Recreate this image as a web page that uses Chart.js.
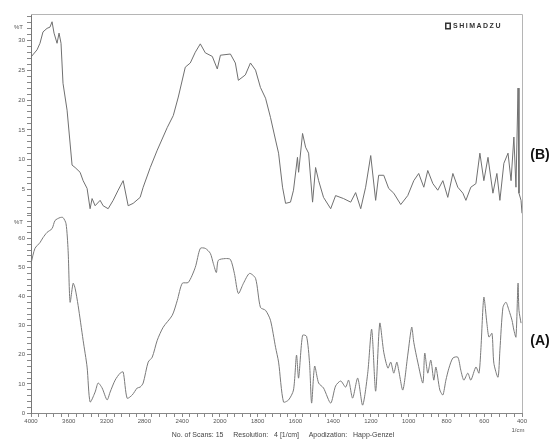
<!DOCTYPE html>
<html>
<head>
<meta charset="utf-8">
<script src="https://cdn.jsdelivr.net/npm/chart.js@4"></script>
<style>
  body { margin: 0; background: #fff; }
  #wrap { width: 552px; height: 441px; }
</style>
</head>
<body>
<div id="wrap"><canvas id="ftir" width="552" height="441"></canvas></div>
<script>
// x axis labels (1/cm), scale is expanded 2x below 2000
const xLabels = [4000, 3600, 3200, 2800, 2400, 2000, 1800, 1600, 1400, 1200, 1000, 800, 600, 400];

// Spectrum (B), top panel
const waveB = [4000, 3936, 3905, 3873, 3830, 3799, 3777, 3756, 3724, 3703, 3682, 3661, 3618, 3565, 3533,
  3480, 3448, 3406, 3374, 3353, 3321, 3268, 3236, 3183, 3130, 3077, 3024, 2971, 2918, 2844, 2812, 2737,
  2663, 2557, 2493, 2440, 2366, 2313, 2260, 2207, 2154, 2080, 2027, 1997, 1944, 1918, 1902, 1865, 1838,
  1811, 1785, 1758, 1732, 1705, 1689, 1668, 1652, 1626, 1610, 1589, 1583, 1562, 1546, 1530, 1509, 1493,
  1477, 1451, 1413, 1387, 1345, 1307, 1281, 1254, 1228, 1201, 1175, 1159, 1132, 1106, 1079, 1042, 1005,
  973, 947, 920, 899, 872, 846, 819, 793, 766, 740, 713, 697, 671, 644, 623, 602, 580, 554, 533, 517,
  496, 474, 458, 443, 432, 421, 416, 405, 400];
const transB = [27.2, 28.4, 29.5, 31.4, 32.0, 32.2, 33.1, 31.2, 29.5, 31.2, 29.5, 22.8, 18.3, 9.1, 8.7,
  7.9, 6.5, 5.2, 1.8, 3.5, 2.3, 3.2, 2.3, 1.8, 3.2, 4.9, 6.5, 2.3, 2.7, 3.7, 5.4, 8.7,
  11.6, 15.4, 17.4, 20.5, 25.5, 26.2, 28.0, 29.4, 27.9, 27.3, 25.2, 27.5, 27.7, 26.2, 23.3, 24.2, 26.2,
  25.0, 22.1, 20.3, 17.1, 13.3, 11.1, 5.4, 2.7, 2.9, 4.9, 10.4, 7.9, 14.4, 12.1, 11.1, 2.9, 8.7,
  6.5, 3.7, 1.8, 4.0, 3.5, 2.9, 4.5, 1.8, 5.4, 10.7, 3.2, 7.4, 7.4, 5.2, 4.4, 2.5, 4.0,
  6.5, 7.7, 5.4, 8.2, 6.0, 4.9, 6.5, 3.7, 7.7, 5.4, 4.4, 3.2, 5.4, 6.0, 11.1, 6.5, 10.4, 4.4, 7.7, 3.2,
  9.4, 11.1, 6.5, 13.8, 5.4, 22.0, 4.4, 3.2, 1.0];

// Spectrum (A), bottom panel
const waveA = [4000, 3958, 3905, 3873, 3830, 3777, 3745, 3692, 3661, 3629, 3607, 3586, 3554, 3533, 3501,
  3448, 3406, 3374, 3321, 3289, 3247, 3194, 3162, 3109, 3056, 3024, 2982, 2928, 2875, 2844, 2812, 2759,
  2716, 2663, 2600, 2504, 2451, 2398, 2334, 2260, 2207, 2154, 2101, 2069, 2037, 2016, 1971, 1944, 1923,
  1902, 1875, 1843, 1811, 1785, 1758, 1732, 1705, 1689, 1663, 1636, 1610, 1594, 1583, 1562, 1541, 1525,
  1514, 1498, 1477, 1451, 1413, 1387, 1360, 1334, 1318, 1297, 1270, 1244, 1217, 1196, 1175, 1153, 1132,
  1110, 1095, 1079, 1063, 1053, 1031, 1005, 984, 973, 952, 925, 915, 899, 883, 867, 856, 835, 819, 803,
  787, 766, 740, 724, 708, 687, 671, 644, 628, 618, 602, 586, 575, 559, 549, 527, 517, 501, 485, 469,
  453, 443, 432, 421, 416, 405];
const transA = [51.4, 56.6, 58.6, 60.3, 62.1, 63.4, 66.2, 67.2, 67.2, 65.1, 55.9, 38.1, 44.6, 42.9, 37.0,
  25.0, 15.8, 3.8, 7.2, 10.3, 8.6, 4.5, 7.2, 11.3, 13.7, 14.1, 5.1, 6.2, 8.6, 8.9, 10.3, 17.5,
  19.2, 25.0, 29.5, 33.6, 38.7, 44.6, 44.9, 50.1, 56.6, 56.6, 54.9, 51.4, 48.3, 52.5, 53.1, 52.8, 48.0,
  41.1, 44.6, 48.0, 46.3, 36.3, 35.3, 31.9, 22.6, 17.5, 3.8, 4.5, 7.9, 19.9, 12.0, 26.7, 26.4, 17.1,
  3.4, 16.1, 10.3, 8.6, 3.4, 9.3, 11.0, 8.9, 11.3, 5.1, 12.0, 2.7, 13.7, 28.8, 7.5, 30.9, 20.9,
  15.4, 17.5, 13.7, 17.5, 14.7, 7.9, 19.9, 29.5, 24.3, 17.5, 10.3, 20.6, 13.7, 18.2, 11.3, 15.8, 7.9, 6.2, 11.3,
  15.4, 18.9, 19.2, 14.7, 11.3, 13.7, 11.3, 15.8, 13.7, 21.6, 39.8, 30.9, 26.1, 27.4, 17.1, 12.3, 21.6, 36.3, 38.1, 35.3,
  31.9, 28.5, 26.1, 44.6, 35.3, 30.9];

// Wavenumber axis: 400 per division above 2000, 200 per division below
class WaveScale extends Chart.LinearScale {
  static id = 'wave';
  static defaults = {};
  determineDataLimits() {
    this.min = 400;
    this.max = 4000;
  }
  buildTicks() {
    const ticks = [];
    for (let i = 0; i < xLabels.length - 1; i++) {
      const a = xLabels[i], b = xLabels[i + 1];
      for (let k = 0; k < 5; k++) ticks.push({ value: a + (b - a) * k / 5 });
    }
    ticks.push({ value: xLabels[xLabels.length - 1] });
    return ticks;
  }
  getPixelForValue(v) {
    const u = v >= 2000 ? (4000 - v) / 2 : 1000 + (2000 - v);
    return this.getPixelForDecimal(u / 2600);
  }
  getValueForPixel(p) {
    const u = this.getDecimalForPixel(p) * 2600;
    return u <= 1000 ? 4000 - 2 * u : 2000 - (u - 1000);
  }
}
Chart.register(WaveScale);

const tickFont = { family: 'Liberation Sans', size: 6 };

// frame, panel labels and instrument texts
const decorations = {
  id: 'decorations',
  afterDraw(chart) {
    const { ctx, chartArea } = chart;
    const yB = chart.scales.yB, yA = chart.scales.yA;
    ctx.save();
    ctx.strokeStyle = '#b5b5b5';
    ctx.lineWidth = 1;
    ctx.beginPath();
    ctx.moveTo(chartArea.left, chartArea.top + 0.5);
    ctx.lineTo(chartArea.right + 0.5, chartArea.top + 0.5);
    ctx.lineTo(chartArea.right + 0.5, chartArea.bottom);
    ctx.stroke();

    ctx.fillStyle = '#555';
    ctx.font = '6px "Liberation Sans"';
    ctx.textAlign = 'right';
    ctx.textBaseline = 'middle';
    ctx.fillText('%T', 23, yB.getPixelForValue(32.2));
    ctx.fillText('%T', 23, yA.getPixelForValue(65.5));

    ctx.textAlign = 'center';
    ctx.fillText('1/cm', 518, 430);
    ctx.font = '7px "Liberation Sans"';
    ctx.fillStyle = '#444';
    ctx.fillText('No. of Scans: 15     Resolution:   4 [1/cm]     Apodization:   Happ-Genzel', 283, 435);

    // logo
    ctx.fillStyle = '#333';
    ctx.fillRect(445, 22.5, 6, 7);
    ctx.fillStyle = '#fff';
    ctx.fillRect(446.5, 24, 3, 4);
    ctx.fillStyle = '#333';
    ctx.font = 'bold 7px "Liberation Sans"';
    ctx.letterSpacing = '1.5px';
    ctx.textAlign = 'left';
    ctx.fillText('SHIMADZU', 453, 26.5);
    ctx.letterSpacing = '0px';

    ctx.fillStyle = '#111';
    ctx.font = 'bold 14px "Liberation Sans"';
    ctx.textAlign = 'center';
    ctx.fillText('(B)', 540, 155);
    ctx.fillText('(A)', 540, 341);
    ctx.restore();
  }
};

new Chart(document.getElementById('ftir'), {
  type: 'line',
  data: {
    datasets: [
      {
        label: 'B',
        data: waveB.map((w, i) => ({ x: w, y: transB[i] })),
        yAxisID: 'yB',
        borderColor: '#707070',
        borderWidth: 1,
        pointRadius: 0,
        tension: 0
      },
      {
        label: 'A',
        data: waveA.map((w, i) => ({ x: w, y: transA[i] })),
        yAxisID: 'yA',
        borderColor: '#7a7a7a',
        borderWidth: 1,
        pointRadius: 0,
        tension: 0.25
      }
    ]
  },
  options: {
    responsive: false,
    animation: false,
    devicePixelRatio: 1,
    layout: { padding: { top: 14, right: 30, left: 0, bottom: 0 } },
    plugins: { legend: { display: false }, tooltip: { enabled: false } },
    scales: {
      x: {
        type: 'wave',
        position: 'bottom',
        afterFit: s => { s.height = 28; },
        border: { display: true, color: '#888' },
        grid: { drawOnChartArea: false, tickLength: 4, tickColor: '#888' },
        ticks: {
          autoSkip: false, maxRotation: 0, padding: 1, font: tickFont, color: '#555',
          callback: v => xLabels.includes(v) ? String(v) : ''
        }
      },
      // bottom panel listed first: the stack places it lowest
      yA: {
        type: 'linear',
        position: 'left',
        stack: 'panels',
        stackWeight: 1,
        min: 0,
        max: 68.6,
        afterFit: s => { s.width = 31; },
        border: { display: true, color: '#777' },
        grid: { drawOnChartArea: false, tickLength: 4, tickColor: '#888' },
        ticks: {
          stepSize: 2, includeBounds: false, autoSkip: false, padding: 2, font: tickFont, color: '#555',
          callback: v => v % 10 === 0 ? String(v) : ''
        }
      },
      yB: {
        type: 'linear',
        position: 'left',
        stack: 'panels',
        stackWeight: 1,
        min: 1,
        max: 34.4,
        afterFit: s => { s.width = 31; },
        border: { display: true, color: '#777' },
        grid: { drawOnChartArea: false, tickLength: 4, tickColor: '#888' },
        ticks: {
          stepSize: 1, includeBounds: false, autoSkip: false, padding: 2, font: tickFont, color: '#555',
          callback: v => v % 5 === 0 ? String(v) : ''
        }
      }
    }
  },
  plugins: [decorations]
});
</script>
</body>
</html>
